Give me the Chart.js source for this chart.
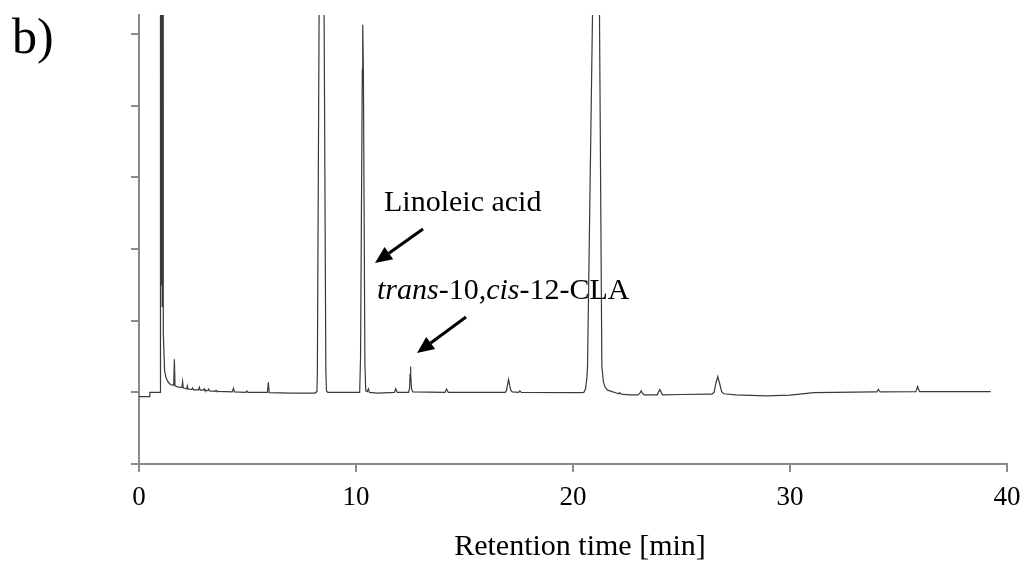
<!DOCTYPE html>
<html>
<head>
<meta charset="utf-8">
<script src="https://cdn.jsdelivr.net/npm/chart.js@4.4.1/dist/chart.umd.min.js"></script>
<style>
  body{margin:0;background:#fff;}
  #wrap{width:1024px;height:563px;}
</style>
</head>
<body>
<div id="wrap"><canvas id="gc" width="1024" height="563"></canvas></div>
<script>
// chromatogram: retention time [min] and detector signal (1 unit = one y tick)
const retentionTime=[0,0.48,0.5,0.97,
  0.99,1.02,1.04,1.07,1.09,1.12,1.18,1.25,1.35,1.45,1.55,1.6,1.63,1.66,1.75,1.9,
  1.98,2.01,2.04,2.2,2.23,2.26,2.43,2.47,2.51,2.74,2.78,2.82,2.96,3.0,3.04,3.17,3.21,3.25,3.51,3.55,3.59,
  4.0,4.3,4.35,4.4,4.92,4.97,5.02,5.92,5.96,6.0,7.0,8.1,
  8.2,8.22,8.3,8.41,8.53,8.61,8.64,8.7,10.0,
  10.17,10.21,10.29,10.31,10.34,10.41,10.45,10.52,10.57,10.62,11.0,
  11.77,11.83,11.9,12.42,12.47,12.49,12.51,12.53,12.56,12.62,14.1,14.17,14.25,
  16.88,16.94,16.98,17.03,17.08,17.13,17.2,17.5,17.55,17.62,20.3,
  20.5,20.58,20.64,20.67,20.9,21.06,21.22,21.33,21.4,21.48,21.6,21.8,22.0,
  22.1,22.15,22.22,22.6,23.0,23.08,23.14,23.2,23.28,23.88,23.95,24.0,24.05,24.12,25.0,26.3,
  26.4,26.5,26.58,26.67,26.76,26.85,26.95,27.5,28.9,30.0,31.1,33.9,
  34.0,34.07,34.15,35.8,35.88,35.97,37.0,39.25];
const signal=[-0.06,-0.06,0,0,
  50,1.5,50,1.2,50,0.83,0.3,0.2,0.14,0.11,0.1,0.1,0.46,0.09,0.08,0.07,
  0.07,0.15,0.06,0.05,0.09,0.045,0.04,0.06,0.035,0.035,0.07,0.03,0.03,0.05,0.025,0.025,0.045,0.02,0.015,0.03,0.012,
  0.01,0.005,0.055,0.005,0,0.02,0,0,0.14,-0.005,-0.01,-0.01,
  0.01,0.3,5.3,80,5.3,0.3,0.02,0,0,
  0,0.5,4.5,5.13,4.5,0.4,0.02,0.01,0.05,0,-0.01,
  0,0.05,0,0,0.06,0.25,0.36,0.25,0.05,0.005,0,0.045,0,
  0,0.03,0.1,0.18,0.1,0.03,0.005,0,0.02,0,-0.005,
  0,0.05,0.2,0.36,5.3,60,5.3,0.36,0.15,0.07,0.03,0.01,-0.01,
  -0.02,-0.005,-0.025,-0.035,-0.035,-0.01,0.02,-0.01,-0.035,-0.035,0.01,0.04,0.01,-0.035,-0.03,-0.025,
  -0.025,0,0.12,0.22,0.12,0.01,-0.02,-0.035,-0.05,-0.04,-0.005,0.005,
  0.005,0.04,0.005,0.008,0.08,0.01,0.01,0.01];
const xTicks=[0,10,20,30,40];
const yTicks=[-1,0,1,2,3,4,5];
const xTitle="Retention time [min]";
const panelLabel="b)";

const axisGrey="#8a8a8a";
const serif="'Liberation Serif','Times New Roman',serif";

const points=retentionTime.map((t,i)=>({x:t,y:signal[i]}));

// labels + arrows drawn on top
const annot={
  id:"annot",
  afterDraw(chart){
    const c=chart.ctx;
    c.save();
    c.fillStyle="#000";
    c.textBaseline="alphabetic";
    c.font="50px "+serif;
    c.fillText(panelLabel,12,53);
    c.font="30px "+serif;
    c.fillText("Linoleic acid",384,211);
    // mixed italic label
    let x=377; const yb=299;
    [["trans",true],["-10,",false],["cis",true],["-12-CLA",false]].forEach(([s,it])=>{
      c.font=(it?"italic ":"")+"30px "+serif;
      c.fillText(s,x,yb); x+=c.measureText(s).width;
    });
    c.font="30px "+serif;
    c.textAlign="center";
    c.fillText(xTitle,580,555);
    arrow(c,423,229,375,263);
    arrow(c,466,317,417,353);
    c.restore();
  }
};
function arrow(c,x1,y1,x2,y2){
  const a=Math.atan2(y2-y1,x2-x1), L=17, W=7.5;
  const bx=x2-L*Math.cos(a), by=y2-L*Math.sin(a);
  c.strokeStyle="#000"; c.lineWidth=3;
  c.beginPath(); c.moveTo(x1,y1); c.lineTo(bx,by); c.stroke();
  c.beginPath();
  c.moveTo(x2,y2);
  c.lineTo(bx+W*Math.sin(a),by-W*Math.cos(a));
  c.lineTo(bx-W*Math.sin(a),by+W*Math.cos(a));
  c.closePath(); c.fill();
}

new Chart(document.getElementById("gc").getContext("2d"),{
  type:"scatter",
  data:{datasets:[{data:points,showLine:true,borderColor:"#3a3a3a",borderWidth:1.2,
    pointRadius:0,tension:0,clip:0}]},
  options:{
    responsive:false,animation:false,
    layout:{padding:{left:0,right:17,top:15,bottom:0}},
    plugins:{legend:{display:false},tooltip:{enabled:false}},
    scales:{
      x:{type:"linear",min:0,max:40,
        afterBuildTicks:s=>{s.ticks=xTicks.map(v=>({value:v}));},
        afterFit:s=>{s.height=99; s.paddingLeft=0; s.paddingRight=0;},
        border:{color:axisGrey,width:2},
        grid:{drawOnChartArea:false,drawTicks:true,tickLength:8,color:axisGrey,lineWidth:2},
        ticks:{color:"#000",padding:10,font:{family:serif,size:27}}},
      y:{type:"linear",min:-1,max:5.265,
        afterBuildTicks:s=>{s.ticks=yTicks.map(v=>({value:v}));},
        afterFit:s=>{s.width=139;},
        border:{color:axisGrey,width:2},
        grid:{drawOnChartArea:false,drawTicks:true,tickLength:8,color:axisGrey,lineWidth:2},
        ticks:{display:false}}
    }
  },
  plugins:[annot]
});
</script>
</body>
</html>
